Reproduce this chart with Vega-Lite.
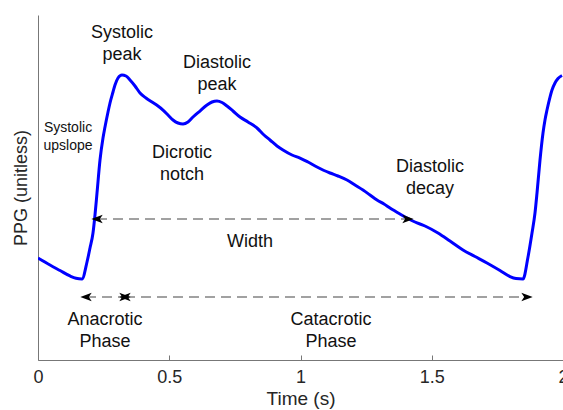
{
  "$schema": "https://vega.github.io/schema/vega-lite/v6.json",
  "width": 525,
  "height": 345,
  "autosize": {"type": "none"},
  "padding": {"left": 38, "top": 15, "right": 0, "bottom": 50},
  "background": "white",
  "config": {
    "view": {"stroke": null},
    "font": "Liberation Sans",
    "axis": {"grid": false, "domainColor": "#777", "tickColor": "#777", "labelColor": "#262626", "titleColor": "#262626", "labelFont": "Liberation Sans", "titleFont": "Liberation Sans", "titleFontWeight": "normal"}
  },
  "datasets": {
    "ppg": [
      {"t": 0, "v": 0.2957}, {"t": 0.0457, "v": 0.2754}, {"t": 0.0838, "v": 0.2594}, {"t": 0.1219, "v": 0.2435},
      {"t": 0.1448, "v": 0.2368}, {"t": 0.1676, "v": 0.2348}, {"t": 0.1867, "v": 0.2841}, {"t": 0.1981, "v": 0.3246},
      {"t": 0.2095, "v": 0.3681}, {"t": 0.2171, "v": 0.4203}, {"t": 0.2248, "v": 0.4841}, {"t": 0.2362, "v": 0.5797},
      {"t": 0.2476, "v": 0.6435}, {"t": 0.2552, "v": 0.6754}, {"t": 0.2667, "v": 0.7188}, {"t": 0.2743, "v": 0.7449},
      {"t": 0.2857, "v": 0.7768}, {"t": 0.2933, "v": 0.7971}, {"t": 0.3048, "v": 0.8174}, {"t": 0.32, "v": 0.8261},
      {"t": 0.3352, "v": 0.8232}, {"t": 0.3505, "v": 0.8116}, {"t": 0.3695, "v": 0.7942}, {"t": 0.3886, "v": 0.7739},
      {"t": 0.4114, "v": 0.7594}, {"t": 0.4343, "v": 0.7478}, {"t": 0.4571, "v": 0.7362}, {"t": 0.4762, "v": 0.7246},
      {"t": 0.4952, "v": 0.7101}, {"t": 0.5143, "v": 0.6957}, {"t": 0.5333, "v": 0.687}, {"t": 0.5524, "v": 0.6841},
      {"t": 0.5714, "v": 0.6899}, {"t": 0.5905, "v": 0.7043}, {"t": 0.6171, "v": 0.7217}, {"t": 0.6438, "v": 0.7391},
      {"t": 0.6629, "v": 0.7478}, {"t": 0.6819, "v": 0.7507}, {"t": 0.701, "v": 0.7464}, {"t": 0.72, "v": 0.7362},
      {"t": 0.7429, "v": 0.7217}, {"t": 0.7695, "v": 0.7043}, {"t": 0.8, "v": 0.6899}, {"t": 0.8343, "v": 0.6725},
      {"t": 0.861, "v": 0.6522}, {"t": 0.8838, "v": 0.6377}, {"t": 0.9105, "v": 0.6203}, {"t": 0.9333, "v": 0.6087},
      {"t": 0.9676, "v": 0.5942}, {"t": 0.9981, "v": 0.5855}, {"t": 1.0286, "v": 0.5739}, {"t": 1.0629, "v": 0.5594},
      {"t": 1.0895, "v": 0.5493}, {"t": 1.1124, "v": 0.542}, {"t": 1.1429, "v": 0.5333}, {"t": 1.1771, "v": 0.5217},
      {"t": 1.2076, "v": 0.5072}, {"t": 1.2381, "v": 0.4928}, {"t": 1.2648, "v": 0.4783}, {"t": 1.2914, "v": 0.4638},
      {"t": 1.3181, "v": 0.4522}, {"t": 1.341, "v": 0.4406}, {"t": 1.379, "v": 0.4232}, {"t": 1.4095, "v": 0.4101},
      {"t": 1.4362, "v": 0.4}, {"t": 1.4743, "v": 0.3884}, {"t": 1.5238, "v": 0.3681}, {"t": 1.5695, "v": 0.3449},
      {"t": 1.619, "v": 0.3188}, {"t": 1.6648, "v": 0.3}, {"t": 1.7105, "v": 0.2812}, {"t": 1.76, "v": 0.2594},
      {"t": 1.7981, "v": 0.242}, {"t": 1.821, "v": 0.2362}, {"t": 1.8476, "v": 0.2348}, {"t": 1.8667, "v": 0.2986},
      {"t": 1.8819, "v": 0.3681}, {"t": 1.8933, "v": 0.4261}, {"t": 1.901, "v": 0.4841}, {"t": 1.9124, "v": 0.5797},
      {"t": 1.9238, "v": 0.658}, {"t": 1.9314, "v": 0.6957}, {"t": 1.939, "v": 0.7246}, {"t": 1.9505, "v": 0.7623},
      {"t": 1.9581, "v": 0.7826}, {"t": 1.9695, "v": 0.8029}, {"t": 1.981, "v": 0.8159}, {"t": 1.9962, "v": 0.8246}
    ],
    "spans": [
      {"name": "Width", "t1": 0.2248, "t2": 1.4095, "v": 0.4087},
      {"name": "Anacrotic", "t1": 0.1829, "t2": 0.3314, "v": 0.1826},
      {"name": "Catacrotic", "t1": 0.3314, "t2": 1.8629, "v": 0.1826}
    ],
    "heads": [
      {"t": 0.2248, "v": 0.4087, "dir": "left"},
      {"t": 1.4095, "v": 0.4087, "dir": "right"},
      {"t": 0.1829, "v": 0.1826, "dir": "left"},
      {"t": 0.3314, "v": 0.1826, "dir": "right"},
      {"t": 0.3314, "v": 0.1826, "dir": "left"},
      {"t": 1.8629, "v": 0.1826, "dir": "right"}
    ],
    "labels": [
      {"t": 0.32, "v": 0.9478, "label": "Systolic\npeak"},
      {"t": 0.6819, "v": 0.8609, "label": "Diastolic\npeak"},
      {"t": 0.5486, "v": 0.6, "label": "Dicrotic\nnotch"},
      {"t": 1.4933, "v": 0.5594, "label": "Diastolic\ndecay"},
      {"t": 0.8076, "v": 0.342, "label": "Width"},
      {"t": 0.2552, "v": 0.1159, "label": "Anacrotic\nPhase"},
      {"t": 1.1162, "v": 0.1159, "label": "Catacrotic\nPhase"}
    ],
    "smallLabels": [
      {"t": 0.1143, "v": 0.6725, "label": "Systolic\nupslope"}
    ]
  },
  "layer": [
    {
      "data": {"name": "ppg"},
      "mark": {"type": "line", "color": "#0000FF", "strokeWidth": 3, "interpolate": "monotone", "clip": true},
      "encoding": {
        "x": {"field": "t", "type": "quantitative", "scale": {"domain": [0, 2], "nice": false, "zero": false},
          "axis": {"title": "Time (s)", "values": [0, 0.5, 1, 1.5, 2], "format": "~g", "labelFontSize": 18, "titleFontSize": 19, "tickSize": -5, "labelPadding": 13, "titlePadding": 3, "labelFlush": false, "labelOverlap": false}},
        "y": {"field": "v", "type": "quantitative", "scale": {"domain": [0, 1], "nice": false, "zero": false},
          "axis": {"title": "PPG (unitless)", "ticks": false, "labels": false, "titleFontSize": 18, "titlePadding": 8}}
      }
    },
    {
      "data": {"name": "spans"},
      "mark": {"type": "rule", "color": "#444", "strokeWidth": 1.2, "strokeDash": [10, 6]},
      "encoding": {
        "x": {"field": "t1", "type": "quantitative"},
        "x2": {"field": "t2"},
        "y": {"field": "v", "type": "quantitative"}
      }
    },
    {
      "data": {"name": "heads"},
      "mark": {"type": "point", "filled": true, "size": 130, "color": "#000", "opacity": 1, "strokeWidth": 0},
      "encoding": {
        "x": {"field": "t", "type": "quantitative"},
        "y": {"field": "v", "type": "quantitative"},
        "shape": {"field": "dir", "type": "nominal", "legend": null,
          "scale": {"domain": ["left", "right"], "range": ["M-1,0 L1,-0.75 L0.5,0 L1,0.75 Z", "M1,0 L-1,-0.75 L-0.5,0 L-1,0.75 Z"]}}
      }
    },
    {
      "data": {"name": "labels"},
      "mark": {"type": "text", "fontSize": 18, "lineBreak": "\n", "lineHeight": 22, "align": "center", "baseline": "middle", "color": "#111"},
      "encoding": {
        "x": {"field": "t", "type": "quantitative"},
        "y": {"field": "v", "type": "quantitative"},
        "text": {"field": "label"}
      }
    },
    {
      "data": {"name": "smallLabels"},
      "mark": {"type": "text", "fontSize": 14, "lineBreak": "\n", "lineHeight": 18, "align": "center", "baseline": "middle", "color": "#111"},
      "encoding": {
        "x": {"field": "t", "type": "quantitative"},
        "y": {"field": "v", "type": "quantitative"},
        "text": {"field": "label"}
      }
    }
  ]
}
